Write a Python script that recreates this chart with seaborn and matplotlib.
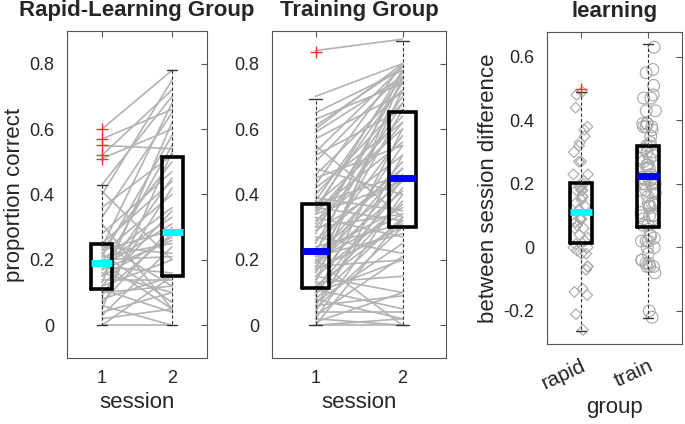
"""
plot.py - paired session scores for the two groups and their learning gain.
"""

import numpy as np
import pandas as pd
import matplotlib
matplotlib.use("Agg")
import matplotlib.pyplot as plt
import seaborn as sns

# ---------------------------------------------------------------------
#  Data
# ---------------------------------------------------------------------
sessions = [1, 2]
groups = ["rapid", "train"]

# proportion correct per subject, session 1 and session 2
rapid_s1 = [0.00, 0.00, 0.02, 0.03, 0.04, 0.05, 0.06, 0.07, 0.08, 0.09,
            0.10, 0.10, 0.11, 0.12, 0.12, 0.13, 0.14, 0.15, 0.15, 0.16,
            0.17, 0.17, 0.18, 0.18, 0.19, 0.19, 0.20, 0.20, 0.21, 0.21,
            0.22, 0.22, 0.23, 0.23, 0.24, 0.24, 0.25, 0.25, 0.28, 0.31,
            0.33, 0.36, 0.40, 0.41, 0.43, 0.51, 0.52, 0.55, 0.57, 0.60]
rapid_s2 = [0.00, 0.15, 0.05, 0.24, 0.10, 0.53, 0.00, 0.30, 0.15, 0.42,
            0.12, 0.28, 0.04, 0.35, 0.20, 0.62, 0.14, 0.27, 0.45, 0.10,
            0.26, 0.55, 0.31, 0.16, 0.33, 0.05, 0.36, 0.21, 0.58, 0.25,
            0.40, 0.07, 0.50, 0.29, 0.68, 0.22, 0.44, 0.12, 0.47, 0.05,
            0.65, 0.52, 0.75, 0.20, 0.70, 0.60, 0.72, 0.54, 0.66, 0.78]

train_s1 = [0.00, 0.00, 0.00, 0.01, 0.02, 0.02, 0.03, 0.04, 0.04, 0.05,
            0.06, 0.06, 0.07, 0.08, 0.08, 0.09, 0.10, 0.10, 0.11, 0.11,
            0.12, 0.13, 0.13, 0.14, 0.15, 0.15, 0.16, 0.17, 0.17, 0.18,
            0.18, 0.19, 0.19, 0.20, 0.20, 0.21, 0.21, 0.22, 0.22, 0.22,
            0.23, 0.24, 0.25, 0.26, 0.27, 0.28, 0.29, 0.30, 0.30, 0.31,
            0.32, 0.33, 0.34, 0.34, 0.35, 0.35, 0.36, 0.36, 0.37, 0.37,
            0.38, 0.39, 0.40, 0.42, 0.43, 0.45, 0.46, 0.48, 0.50, 0.52,
            0.53, 0.55, 0.57, 0.59, 0.60, 0.61, 0.63, 0.65, 0.70, 0.84]
train_s2 = [0.00, 0.02, 0.33, 0.10, 0.00, 0.40, 0.21, 0.04, 0.52, 0.30,
            0.09, 0.45, 0.25, 0.33, 0.02, 0.60, 0.20, 0.38, 0.05, 0.42,
            0.32, 0.76, 0.15, 0.46, 0.37, 0.10, 0.55, 0.30, 0.72, 0.48,
            0.20, 0.41, 0.66, 0.34, 0.00, 0.50, 0.28, 0.78, 0.44, 0.36,
            0.58, 0.31, 0.68, 0.48, 0.22, 0.75, 0.45, 0.62, 0.34, 0.70,
            0.52, 0.27, 0.64, 0.44, 0.78, 0.56, 0.32, 0.74, 0.60, 0.46,
            0.76, 0.35, 0.68, 0.62, 0.80, 0.55, 0.72, 0.40, 0.77, 0.66,
            0.79, 0.33, 0.71, 0.76, 0.80, 0.79, 0.74, 0.78, 0.80, 0.875]

# box summaries: [lower whisker, q1, median, q3, upper whisker]
rapid_box_s1 = [0.0, 0.11, 0.19, 0.25, 0.43]
rapid_box_s2 = [0.0, 0.15, 0.284, 0.516, 0.78]
rapid_out_s1 = [0.51, 0.52, 0.55, 0.57, 0.60]
train_box_s1 = [0.0, 0.113, 0.226, 0.372, 0.693]
train_box_s2 = [0.0, 0.302, 0.449, 0.653, 0.87]
train_out_s1 = [0.837]
diff_box_rapid = [-0.263, 0.013, 0.113, 0.203, 0.489]
diff_box_train = [-0.222, 0.063, 0.224, 0.319, 0.64]
diff_out_rapid = [0.50]

# ---------------------------------------------------------------------
#  Style
# ---------------------------------------------------------------------
sns.set_style("white")
plt.rcParams["font.family"] = ["Liberation Sans", "DejaVu Sans"]
plt.rcParams["text.color"] = "#262626"
plt.rcParams["axes.labelcolor"] = "#262626"

GRAY = "#b3b3b3"
CYAN = "#00ffff"
BLUE = "#0000ff"


def box_stats(five, fliers=()):
    lo, q1, med, q3, hi = five
    return dict(whislo=lo, q1=q1, med=med, q3=q3, whishi=hi, fliers=list(fliers))


def draw_boxes(ax, stats, positions, colors, width=0.3):
    for st, pos, c in zip(stats, positions, colors):
        ax.bxp([st], positions=[pos], widths=width, capwidths=0.15,
               manage_ticks=False, zorder=5,
               boxprops=dict(color="black", linewidth=2.6, solid_joinstyle="miter"),
               medianprops=dict(color=c, linewidth=5, solid_capstyle="butt"),
               whiskerprops=dict(color="#333333", linewidth=0.8, linestyle=(0, (3, 2))),
               capprops=dict(color="#333333", linewidth=1.0),
               flierprops=dict(marker="+", markeredgecolor="#ff3030",
                               markersize=9, markeredgewidth=1.0, linestyle="none"))


def style_axes(ax):
    for sp in ax.spines.values():
        sp.set_visible(True)
        sp.set_color("#555555")
        sp.set_linewidth(0.8)
    ax.tick_params(direction="in", top=True, right=True, length=4, width=0.8,
                   color="#555555", labelsize=13, pad=9, labelcolor="#262626")


def long_table(s1, s2):
    n = len(s1)
    return pd.DataFrame({
        "subject": list(range(n)) * 2,
        "session": [sessions[0]] * n + [sessions[1]] * n,
        "score": list(s1) + list(s2),
    })


fig = plt.figure(figsize=(6.85, 4.24), dpi=100)
ax1 = fig.add_axes([0.0978, 0.1557, 0.2044, 0.7712])
ax2 = fig.add_axes([0.3971, 0.1557, 0.2540, 0.7712])
ax3 = fig.add_axes([0.7985, 0.1887, 0.1971, 0.7358])

# ---------------------------------------------------------------------
#  Session panels
# ---------------------------------------------------------------------
panels = [
    (ax1, rapid_s1, rapid_s2, rapid_box_s1, rapid_box_s2, rapid_out_s1, CYAN,
     "Rapid-Learning Group"),
    (ax2, train_s1, train_s2, train_box_s1, train_box_s2, train_out_s1, BLUE,
     "Training Group"),
]
for ax, s1, s2, b1, b2, out1, col, title in panels:
    sns.lineplot(data=long_table(s1, s2), x="session", y="score", units="subject",
                 estimator=None, color=GRAY, linewidth=1.2, ax=ax, zorder=1)
    draw_boxes(ax, [box_stats(b1, out1), box_stats(b2)], sessions, [col, col])
    ax.set_xlim(0.5, 2.5)
    ax.set_ylim(-0.1, 0.9)
    ax.set_xticks(sessions)
    ax.set_yticks([0, 0.2, 0.4, 0.6, 0.8])
    ax.set_yticklabels(["0", "0.2", "0.4", "0.6", "0.8"])
    ax.set_xlabel("session", fontsize=16, labelpad=3)
    ax.set_ylabel("")
    ax.set_title(title, fontsize=16, fontweight="bold", pad=11)
    style_axes(ax)

ax1.set_ylabel("proportion correct", fontsize=16, labelpad=3)

# ---------------------------------------------------------------------
#  Learning panel
# ---------------------------------------------------------------------
rapid_diff = np.array(rapid_s2) - np.array(rapid_s1)
train_diff = np.array(train_s2) - np.array(train_s1)
diff_df = pd.DataFrame({
    "group": [groups[0]] * len(rapid_diff) + [groups[1]] * len(train_diff),
    "diff": np.concatenate([rapid_diff, train_diff]),
})

np.random.seed(4)
sns.stripplot(data=diff_df[diff_df["group"] == "rapid"], x="group", y="diff",
              order=groups, marker="D", size=5.5, jitter=0.11, ax=ax3, zorder=2)
sns.stripplot(data=diff_df[diff_df["group"] == "train"], x="group", y="diff",
              order=groups, marker="o", size=8.5, jitter=0.11, ax=ax3, zorder=2)
for coll in ax3.collections:
    coll.set_facecolor("none")
    coll.set_edgecolor("#a8a8a8")
    coll.set_linewidth(0.8)

draw_boxes(ax3, [box_stats(diff_box_rapid, diff_out_rapid), box_stats(diff_box_train)],
           [0, 1], [CYAN, BLUE], width=0.32)
ax3.set_xlim(-0.5, 1.5)
ax3.set_ylim(-0.304, 0.678)
ax3.set_xticks([0, 1])
ax3.set_yticks([-0.2, 0, 0.2, 0.4, 0.6])
ax3.set_yticklabels(["-0.2", "0", "0.2", "0.4", "0.6"])
ax3.set_xlabel("group", fontsize=16, labelpad=3)
ax3.set_ylabel("between session difference", fontsize=16, labelpad=3)
ax3.set_title("learning", fontsize=16, fontweight="bold", pad=11)
style_axes(ax3)
ax3.set_xticklabels(groups, rotation=25, ha="right", rotation_mode="anchor",
                    fontsize=15)

fig.savefig("out.png", dpi=100)
